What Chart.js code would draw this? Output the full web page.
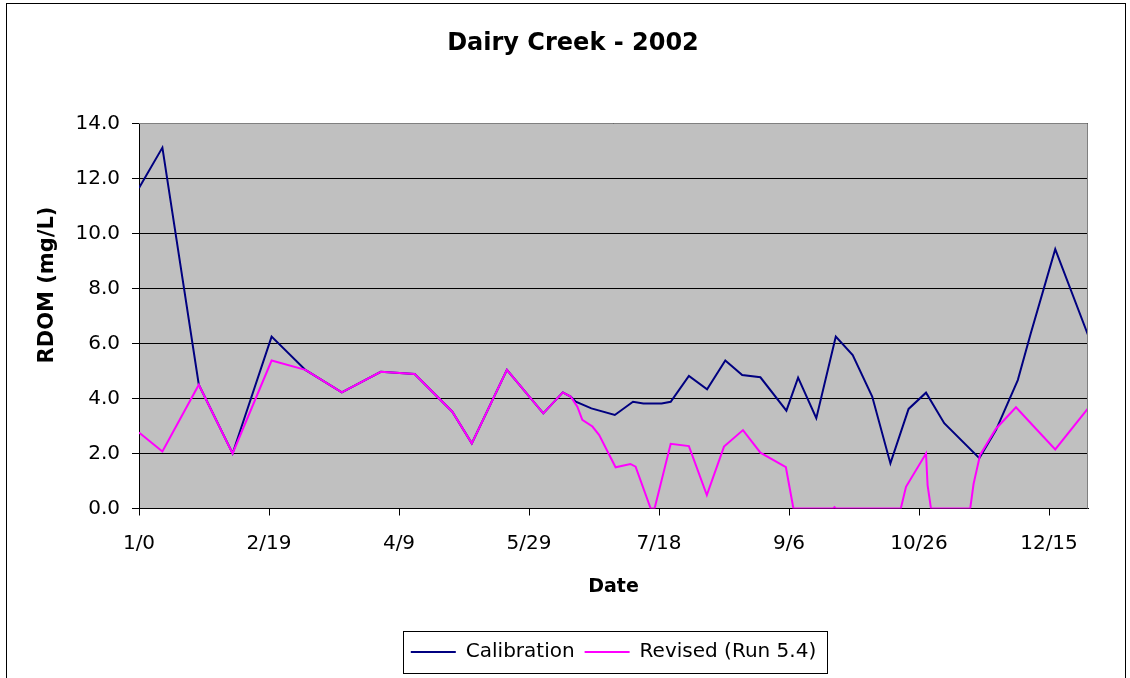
<!DOCTYPE html>
<html>
<head>
<meta charset="utf-8">
<title>Dairy Creek - 2002</title>
<script src="https://cdn.jsdelivr.net/npm/chart.js@4.4.1/dist/chart.umd.min.js"></script>
<style>
  html, body { margin: 0; padding: 0; background: #fff; }
  #wrap { width: 1130px; height: 678px; }
</style>
</head>
<body>
<div id="wrap"><canvas id="rdomChart" width="1130" height="678"></canvas></div>
<script>
// day of year (Excel serial, 0 = "1/0") and RDOM in mg/L
const calDays = [0, 9, 23, 36, 51, 64, 78, 93, 106, 120.5, 128, 141.5, 155.5, 163, 166, 168, 174, 183, 190, 194, 201, 204.5,
  211.5, 218.5, 225.5, 232, 239, 249, 253.5, 260.5, 268, 274.5, 282, 289, 296, 302.7, 309.7, 323.2, 329.6, 338, 343, 352.4, 365];
const calValues = [11.65, 13.12, 4.5, 2.0, 6.25, 5.04, 4.22, 4.97, 4.89, 3.52, 2.37, 5.04, 3.46, 4.22, 4.07, 3.88, 3.64, 3.4, 3.88, 3.82, 3.82, 3.88,
  4.82, 4.33, 5.38, 4.85, 4.77, 3.56, 4.76, 3.28, 6.25, 5.58, 4.07, 1.64, 3.62, 4.21, 3.1, 1.83, 2.85, 4.67, 6.37, 9.43, 6.31];

const revDays = [0, 9, 23, 36, 51, 64, 78, 93, 106, 120.5, 128, 141.5, 155.5, 163, 166, 168.6, 170.5, 174.4, 177, 183.3, 189, 191, 196.8, 198.3,
  204.5, 211.5, 218.4, 225, 232.3, 239, 248.8, 251.7, 267, 267.5, 268, 293, 295, 302.7, 303.3, 304.6, 319.7, 321, 323.5, 329.6, 337.3, 343, 352.4, 365];
const revValues = [2.76, 2.07, 4.5, 2.0, 5.38, 5.04, 4.22, 4.97, 4.89, 3.52, 2.37, 5.04, 3.46, 4.22, 4.07, 3.7, 3.22, 2.98, 2.67, 1.5, 1.62, 1.52, 0, 0,
  2.35, 2.27, 0.49, 2.25, 2.85, 2.03, 1.5, 0, 0, 0.05, 0, 0, 0.79, 2.0, 0.85, 0, 0, 0.9, 1.95, 2.9, 3.68, 3.1, 2.15, 3.64];

const tickDays = [0, 50, 100, 150, 200, 250, 300, 350];
const tickLabels = ['1/0', '2/19', '4/9', '5/29', '7/18', '9/6', '10/26', '12/15'];

const FONT = 'DejaVu Sans';
const toPoints = (days, values) => days.map((d, i) => ({ x: d, y: values[i] }));

// gray plot area, outer frame, legend box and the y title, Excel style
const excelFrame = {
  id: 'excelFrame',
  afterLayout(chart) {
    // Excel puts the title slightly right of the page center
    chart.titleBlock.left = 16;
    chart.titleBlock.right = 1130;
  },
  beforeDraw(chart) {
    const { ctx, chartArea: a } = chart;
    ctx.save();
    ctx.fillStyle = '#fff';
    ctx.fillRect(0, 0, chart.width, chart.height);
    ctx.strokeStyle = '#000';
    ctx.lineWidth = 1;
    ctx.strokeRect(6.5, 3.5, 1119, 700);
    ctx.fillStyle = '#c0c0c0';
    ctx.fillRect(a.left, a.top, a.right - a.left, a.bottom - a.top);
    ctx.restore();
  },
  afterDraw(chart) {
    const { ctx, chartArea: a, legend } = chart;
    ctx.save();
    ctx.strokeStyle = '#808080';
    ctx.lineWidth = 1;
    const top = Math.round(a.top) + 0.5, right = Math.round(a.right) - 0.5;
    ctx.beginPath();
    ctx.moveTo(a.left, top);
    ctx.lineTo(right, top);
    ctx.lineTo(right, a.bottom);
    ctx.stroke();

    const hb = legend.legendHitBoxes;
    const first = hb[0], last = hb[hb.length - 1];
    const cy = first.top + first.height / 2;
    ctx.strokeStyle = '#000';
    ctx.strokeRect(Math.round(first.left - 8) + 0.5, Math.round(cy - 21) + 0.5,
      Math.round(last.left + last.width - first.left + 19), 42);

    ctx.fillStyle = '#000';
    ctx.font = 'bold 21px "' + FONT + '"';
    ctx.textAlign = 'center';
    ctx.textBaseline = 'middle';
    ctx.translate(48, 285);
    ctx.rotate(-Math.PI / 2);
    ctx.fillText('RDOM (mg/L)', 0, 0);
    ctx.restore();
  }
};

new Chart(document.getElementById('rdomChart'), {
  type: 'line',
  data: {
    datasets: [
      {
        label: 'Calibration',
        data: toPoints(calDays, calValues),
        borderColor: '#000080',
        backgroundColor: '#000080',
        borderWidth: 2,
        pointRadius: 0,
        order: 1,
      },
      {
        label: 'Revised (Run 5.4)',
        data: toPoints(revDays, revValues),
        borderColor: '#ff00ff',
        backgroundColor: '#ff00ff',
        borderWidth: 2,
        pointRadius: 0,
        order: 0,
      },
    ],
  },
  options: {
    responsive: false,
    animation: false,
    layout: { padding: { top: 0, left: 0, right: 42, bottom: 6 } },
    plugins: {
      tooltip: { enabled: false },
      title: {
        display: true,
        text: 'Dairy Creek - 2002',
        color: '#000',
        font: { family: FONT, size: 24, weight: 'bold' },
        padding: { top: 29.6, bottom: 65 },
      },
      legend: {
        position: 'bottom',
        fullSize: false,
        labels: {
          color: '#000',
          font: { family: FONT, size: 20 },
          boxWidth: 45,
          boxHeight: 0,
          padding: 10,
          sort: (a, b) => a.datasetIndex - b.datasetIndex,
        },
      },
    },
    scales: {
      x: {
        type: 'linear',
        min: 0,
        max: 365,
        afterBuildTicks: s => { s.ticks = tickDays.map(v => ({ value: v })); },
        afterFit: s => { s.height = 123.5; },
        ticks: {
          color: '#000',
          font: { family: FONT, size: 20 },
          padding: 16,
          maxRotation: 0,
          autoSkip: false,
          callback: v => tickLabels[tickDays.indexOf(v)],
        },
        grid: { drawOnChartArea: false, tickLength: 7, color: '#000' },
        border: { color: '#000', width: 1 },
        title: {
          display: true,
          text: 'Date',
          color: '#000',
          font: { family: FONT, size: 19, weight: 'bold' },
          padding: { top: 0, bottom: 34 },
        },
      },
      y: {
        min: 0,
        max: 14,
        afterFit: s => { s.width = 139; },
        ticks: {
          stepSize: 2,
          color: '#000',
          font: { family: FONT, size: 20 },
          padding: 12,
          callback: v => v.toFixed(1),
        },
        grid: { color: '#000', tickLength: 7 },
        border: { color: '#000', width: 1 },
      },
    },
  },
  plugins: [excelFrame],
});
</script>
</body>
</html>
